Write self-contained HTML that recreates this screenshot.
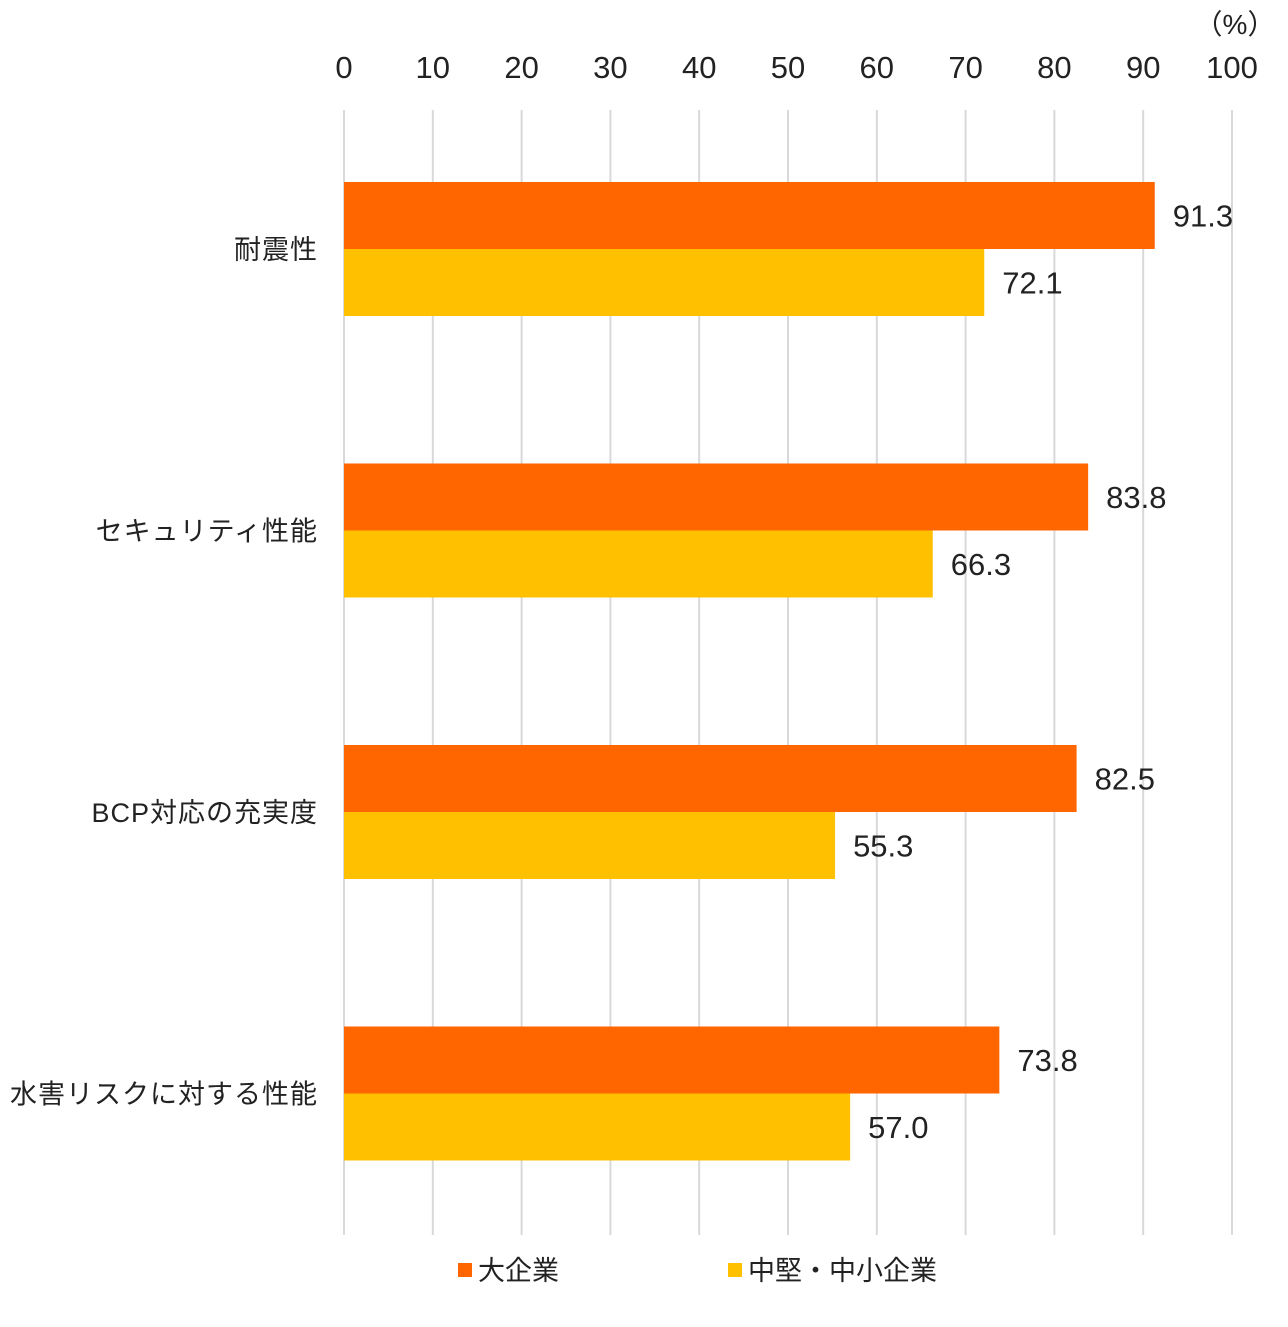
<!DOCTYPE html>
<html><head><meta charset="utf-8">
<style>
html,body{margin:0;padding:0;background:#fff;width:1288px;height:1327px;overflow:hidden;}
svg{display:block;font-family:"Liberation Sans","Noto Sans CJK JP",sans-serif;}
</style></head>
<body>
<svg id="chart" width="1288" height="1327" viewBox="0 0 1288 1327">
<text x="1235" y="34" text-anchor="middle" font-size="28" fill="#222">（%）</text>
<g id="grid"></g>
<g id="ticks"></g>
<g id="bars"></g>
<g id="cats"></g>
<g>
<rect x="458" y="1263" width="14" height="14" fill="#FF6600"/>
<text x="478" y="1280" font-size="27" fill="#222">大企業</text>
<rect x="728" y="1263" width="14" height="14" fill="#FFC000"/>
<text x="748" y="1280" font-size="27" fill="#222">中堅・中小企業</text>
</g>
</svg>
<script>
const categories = ["耐震性","セキュリティ性能","BCP対応の充実度","水害リスクに対する性能"];
const largeValues = [91.3, 83.8, 82.5, 73.8];
const smbValues = [72.1, 66.3, 55.3, 57.0];
const tickValues = [0,10,20,30,40,50,60,70,80,90,100];

const NS = "http://www.w3.org/2000/svg";
const x0 = 344, x1 = 1232;
const xs = v => x0 + (x1 - x0) * v / 100;
const groupTop = i => 182 + i * 281.5;
const barH = 67;
function mk(tag, attrs, parent){const e=document.createElementNS(NS,tag);for(const k in attrs)e.setAttribute(k,attrs[k]);parent.appendChild(e);return e;}
const grid=document.getElementById('grid'),ticks=document.getElementById('ticks'),bars=document.getElementById('bars'),cats=document.getElementById('cats');
tickValues.forEach(t=>{
  const l=mk('line',{x1:xs(t),x2:xs(t),y1:110,y2:1235,stroke:'#d9d9d9','stroke-width':2},grid);
  
  
  const tx=mk('text',{x:xs(t),y:78,'text-anchor':'middle','font-size':31,fill:'#222'},ticks);
  tx.textContent=t;
  
  
});
categories.forEach((c,i)=>{
  const y=groupTop(i);
  const b1=mk('rect',{x:xs(0),y:y,width:xs(largeValues[i])-xs(0),height:barH,fill:'#FF6600'},bars);
  
  
  const b2=mk('rect',{x:xs(0),y:y+barH,width:xs(smbValues[i])-xs(0),height:barH,fill:'#FFC000'},bars);
  
  
  const v1=mk('text',{x:xs(largeValues[i])+18,y:y+barH/2+11,'font-size':31,fill:'#222'},bars);
  v1.textContent=largeValues[i].toFixed(1);
  
  
  const v2=mk('text',{x:xs(smbValues[i])+18,y:y+barH*1.5+11,'font-size':31,fill:'#222'},bars);
  v2.textContent=smbValues[i].toFixed(1);
  
  
  const cl=mk('text',{x:318,y:y+barH+10,'text-anchor':'end','font-size':27,'letter-spacing':1,fill:'#222'},cats);
  cl.textContent=c;
  
  
});
</script>
</body></html>
